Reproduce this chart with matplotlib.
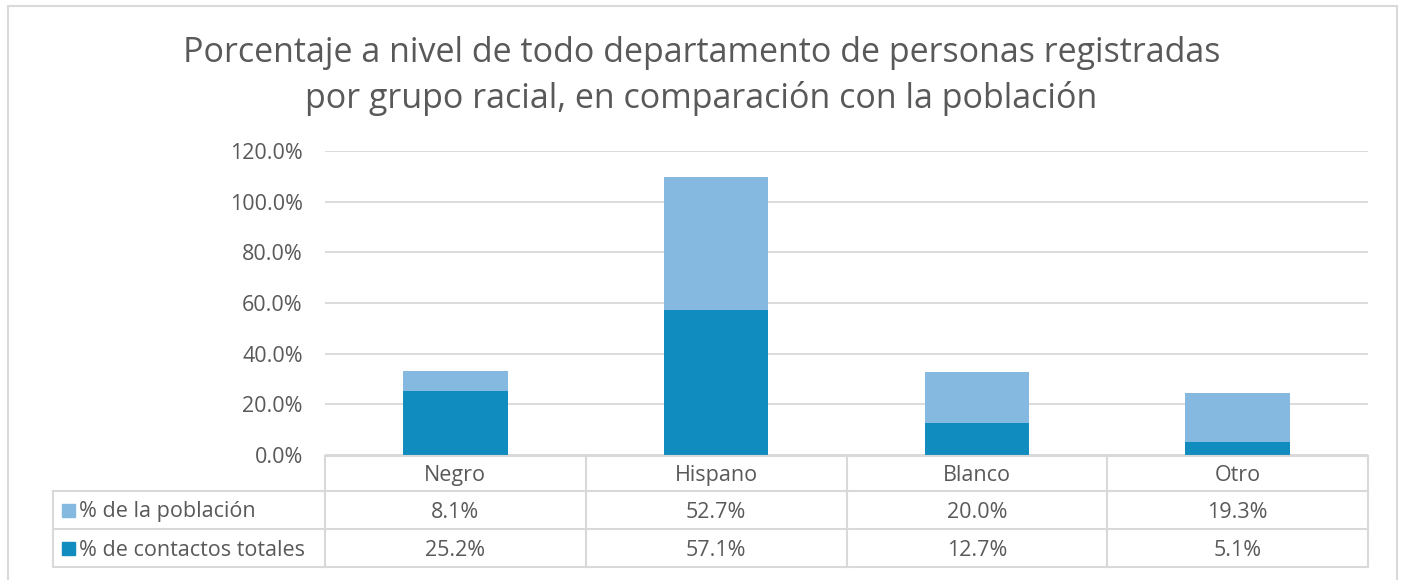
import matplotlib.pyplot as plt
from matplotlib.patches import Rectangle
from matplotlib.lines import Line2D

categories = ["Negro", "Hispano", "Blanco", "Otro"]
poblacion = [8.1, 52.7, 20.0, 19.3]
contactos = [25.2, 57.1, 12.7, 5.1]
series_labels = ["% de la población", "% de contactos totales"]
yticks = [0, 20, 40, 60, 80, 100, 120]

title = ("Porcentaje a nivel de todo departamento de personas registradas\n"
         "por grupo racial, en comparación con la población")

dark = "#118CBE"
light = "#86B9DF"
grid = "#D9D9D9"
text_c = "#595959"

plt.rcParams['font.family'] = ['Open Sans', 'DejaVu Sans']

W, H = 1403, 580
fig = plt.figure(figsize=(W / 100, H / 100), dpi=100)


def fx(px):
    return px / W


def fy(py):
    return 1 - py / H


# outer chart border
fig.add_artist(Rectangle((fx(8), fy(600)), fx(1397 - 8), fy(6) - fy(600),
                         transform=fig.transFigure, fill=False,
                         edgecolor=grid, lw=1.5))

left, right, top, bottom = 325, 1368, 151, 455
ax = fig.add_axes([fx(left), fy(bottom), fx(right - left), fy(top) - fy(bottom)])

x = range(len(categories))
ax.bar(x, contactos, width=0.4, color=dark, zorder=3)
ax.bar(x, poblacion, width=0.4, bottom=contactos, color=light, zorder=3)

fs = 15.5
ax.set_xlim(-0.5, len(categories) - 0.5)
ax.set_ylim(0, 120)
ax.set_yticks(yticks)
ax.set_yticklabels([f"{v:.1f}%" for v in yticks], fontsize=fs, color=text_c)
ax.set_xticks([])
ax.tick_params(axis='y', length=0, pad=16)
ax.grid(axis='y', color=grid, lw=1.3, zorder=0)
for s in ax.spines.values():
    s.set_visible(False)

fig.text(0.5, fy(76), title, ha='center', va='center', fontsize=24.5,
         color=text_c, linespacing=1.42)

# data table below the axes
row_y = [456, 491, 529, 567]
col_x = [left + i * (right - left) / len(categories) for i in range(len(categories) + 1)]
dy = 2  # nudge text down to sit centred in its cell


def hline(y, x0, x1):
    fig.add_artist(Line2D([fx(x0), fx(x1)], [fy(y), fy(y)], color=grid, lw=1.5,
                          transform=fig.transFigure))


def vline(xp, y0, y1):
    fig.add_artist(Line2D([fx(xp), fx(xp)], [fy(y0), fy(y1)], color=grid, lw=1.5,
                          transform=fig.transFigure))


hline(row_y[0], left, right)
for y in row_y[1:]:
    hline(y, 53, right)
vline(53, row_y[1], row_y[3])
for xp in col_x:
    vline(xp, row_y[0], row_y[3])

rows = [poblacion, contactos]
colors = [light, dark]
for i, cat in enumerate(categories):
    cx = (col_x[i] + col_x[i + 1]) / 2
    fig.text(fx(cx), fy((row_y[0] + row_y[1]) / 2 + dy), cat, ha='center', va='center',
             fontsize=fs, color=text_c)
    for r, vals in enumerate(rows):
        fig.text(fx(cx), fy((row_y[r + 1] + row_y[r + 2]) / 2 + dy), f"{vals[i]:.1f}%",
                 ha='center', va='center', fontsize=fs, color=text_c)

for r, lab in enumerate(series_labels):
    yc = (row_y[r + 1] + row_y[r + 2]) / 2
    fig.add_artist(Rectangle((fx(62), fy(yc + 6.5)), fx(13), fy(yc - 6.5) - fy(yc + 6.5),
                             transform=fig.transFigure, color=colors[r]))
    fig.text(fx(79), fy(yc + dy), lab, ha='left', va='center', fontsize=fs, color=text_c)

fig.savefig("out.png", dpi=100)
